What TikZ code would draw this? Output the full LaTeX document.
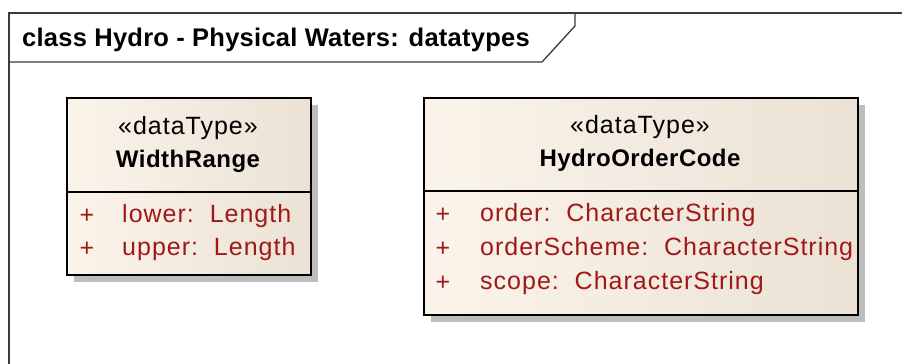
\documentclass[tikz,border=0pt]{standalone}
\usepackage{fontspec}
\setmainfont{Liberation Sans}
\newfontfamily\regfont{Liberation Sans}[LetterSpace=4]
\newfontfamily\boldfont{Liberation Sans Bold}[LetterSpace=2]
\newfontfamily\titlefont{Liberation Sans Bold}[LetterSpace=1]
\usetikzlibrary{shadows}
\definecolor{attr}{HTML}{A01818}
\definecolor{boxL}{HTML}{FBF4EA}
\definecolor{boxR}{HTML}{EBE2D5}
\definecolor{frameC}{HTML}{3A3A3A}
\definecolor{shadowC}{HTML}{BDBDBD}
\tikzset{
  umlbox/.style={draw=black, line width=1.8pt, left color=boxL, right color=boxR,
    anchor=north west, inner sep=0pt,
    drop shadow={shadow xshift=7pt, shadow yshift=-7pt, fill=shadowC, opacity=1}},
  txt/.style={font=\fontsize{25}{28}\regfont, inner sep=0pt, text=black},
  bold/.style={txt, font=\fontsize{24}{28}\boldfont},
  attrtxt/.style={txt, text=attr, anchor=west},
  plus/.style={txt, text=attr},
  frameline/.style={draw=frameC, line width=1.3pt}
}
\begin{document}
\begin{tikzpicture}[x=1pt, y=-1pt]
\useasboundingbox (0,0) rectangle (902,364);
\fill[white] (0,0) rectangle (902,364);
% frame
\coordinate (fTR) at (902,13);
\coordinate (fTL) at (9,13);
\coordinate (fBL) at (9,364);
\coordinate (tabB) at (9,62);
\coordinate (tabS) at (542,62);
\coordinate (tabK) at (575,26);
\coordinate (tabT) at (575,13);
\draw[frameline] (fTR) -- (fTL) -- (fBL);
\draw[frameline] (tabB) -- (tabS) -- (tabK) -- (tabT);
\node[txt, font=\fontsize{25.5}{28}\titlefont, anchor=west] (title) at (22,40) {class Hydro - Physical Waters: datatypes};
% WidthRange
\node[umlbox, minimum width=244pt, minimum height=177pt] (wr) at (66,97) {};
\coordinate (wrdl) at (66,192);
\coordinate (wrdr) at (310,192);
\draw[line width=1.5pt] (wrdl) -- (wrdr);
\node[txt] (wrst) at (188,128) {«dataType»};
\node[bold] (wrname) at (188,161) {WidthRange};
\node[plus] (wrp1) at (87,216) {+};
\node[plus] (wrp2) at (87,249) {+};
\node[attrtxt] (wra1) at (122,216) {lower:\ \ Length};
\node[attrtxt] (wra2) at (122,249) {upper:\ \ Length};
% HydroOrderCode
\node[umlbox, minimum width=434pt, minimum height=217pt] (hoc) at (423,97) {};
\coordinate (hocdl) at (423,191);
\coordinate (hocdr) at (857,191);
\draw[line width=1.5pt] (hocdl) -- (hocdr);
\node[txt] (hocst) at (640,127) {«dataType»};
\node[bold] (hocname) at (640,160) {HydroOrderCode};
\node[plus] (hp1) at (443,215) {+};
\node[plus] (hp2) at (443,249) {+};
\node[plus] (hp3) at (443,283) {+};
\node[attrtxt] (ha1) at (480,215) {order:\ \ CharacterString};
\node[attrtxt] (ha2) at (480,249) {orderScheme:\ \ CharacterString};
\node[attrtxt] (ha3) at (480,283) {scope:\ \ CharacterString};
\end{tikzpicture}
\end{document}
